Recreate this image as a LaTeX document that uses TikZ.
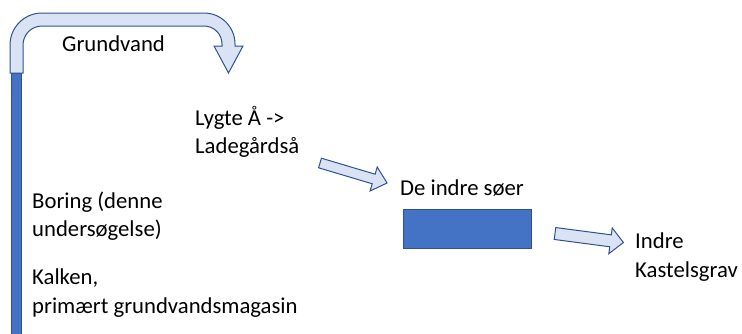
\documentclass[tikz,border=0pt]{standalone}
\usepackage{fontspec}
\setmainfont{Carlito}
\definecolor{lightfill}{HTML}{DAE3F3}
\definecolor{edge}{HTML}{2F528F}
\definecolor{solid}{HTML}{4472C4}
\tikzset{
  lbl/.style={inner sep=0pt, anchor=west, align=left, font=\fontsize{22.7}{28.5}\selectfont},
  blockarrow/.style={fill=lightfill, draw=edge, line width=1pt, line join=miter},
  solidbox/.style={fill=solid, draw=edge, line width=0.6pt}
}
\begin{document}
\begin{tikzpicture}[x=1pt,y=-1pt]
\useasboundingbox (0,0) rectangle (742,333);
% vertical bar (boring)
\draw[solidbox] (11,73) rectangle (21,334);
% U-turn arrow
\draw[blockarrow] (10,73) -- (10,45) arc[start angle=180, end angle=270, radius=32]
  -- (204,13) arc[start angle=270, end angle=360, radius=31]
  -- (235,46) -- (243,46) -- (228.5,73) -- (214,46) -- (222,46)
  -- (222,44) arc[start angle=360, end angle=270, radius=18]
  -- (42,26) arc[start angle=270, end angle=180, radius=19]
  -- (23,73) -- cycle;
% slanted arrow 1
\begin{scope}[shift={(320,163)}, rotate=-16.6]
\draw[blockarrow] (0,-5) -- (56,-5) -- (56,-12.5) -- (70,0) -- (56,12.5) -- (56,5) -- (0,5) -- cycle;
\end{scope}
% slanted arrow 2
\begin{scope}[shift={(555,233.5)}, rotate=-7.5]
\draw[blockarrow] (0,-6) -- (56,-6) -- (56,-13) -- (69,0) -- (56,13) -- (56,6) -- (0,6) -- cycle;
\end{scope}
% lake box
\node[solidbox, minimum width=128pt, minimum height=39pt, inner sep=0pt] (soer) at (467,228.5) {};
% labels
\node[lbl] (grund) at (62,44) {Grundvand};
\node[lbl] (lygte) at (195,132) {Lygte Å ->\\Ladegårdså};
\node[lbl] (indre) at (400,188) {De indre søer};
\node[lbl] (kastel) at (635,257) {Indre\\Kastelsgrav};
\node[lbl] (boring) at (32,216) {Boring (denne\\undersøgelse)};
\node[lbl] (kalk) at (32,293) {Kalken,\\primært grundvandsmagasin};
\end{tikzpicture}
\end{document}
